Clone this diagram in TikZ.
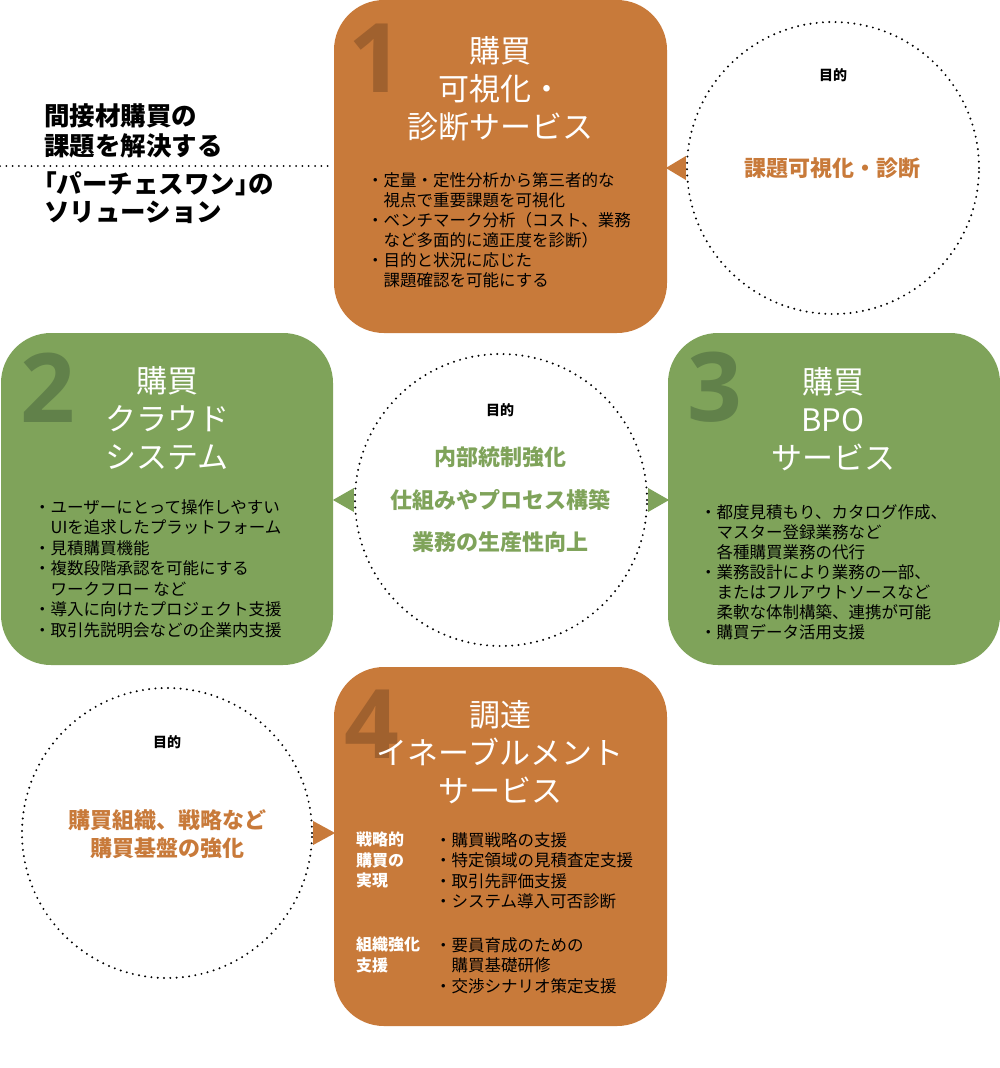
\documentclass[tikz,border=0pt]{standalone}
\usepackage{fontspec}
\setmainfont{Noto Sans CJK JP}
\newfontfamily\numfont{Open Sans}
\definecolor{ochre}{HTML}{C87A3A}
\definecolor{ochredark}{HTML}{A0612E}
\definecolor{leaf}{HTML}{7FA35A}
\definecolor{leafdark}{HTML}{61814A}
\newcommand\bulind{\hspace*{1em}}
\tikzset{
 box/.style={fill=#1,rounded corners=50pt,inner sep=0,minimum width=333pt,minimum height=333pt},
 bignum/.style={text=#1,font=\numfont\bfseries\fontsize{96}{96}\selectfont,inner sep=0,anchor=base},
 ttl/.style={text=white,font=\fontsize{31}{38}\selectfont,align=center,inner sep=0},
 body/.style={font=\fontsize{16.5}{20}\selectfont,align=left,inner sep=0,anchor=north west},
 side/.style={text=white,font=\bfseries\fontsize{16}{20.5}\selectfont,align=left,inner sep=0,anchor=north west},
 ring/.style={circle,draw,dash pattern=on 0pt off 6.3pt,line width=2.2pt,line cap=round,minimum size=292pt,inner sep=0},
 dotline/.style={draw,dash pattern=on 0pt off 6.3pt,line width=2pt,line cap=round},
 aim/.style={font=\bfseries\fontsize{14}{14}\selectfont,inner sep=0},
 goal/.style={text=#1,font=\bfseries\fontsize{22}{28}\selectfont,align=center,inner sep=0},
 head/.style={font=\bfseries\fontsize{25.5}{30}\selectfont,align=left,anchor=west,inner sep=0},
}
\begin{document}
\begin{tikzpicture}[x=1pt,y=-1pt]
\useasboundingbox (0,0) rectangle (1000,1068);
\node[box=ochre] (b1) at (500.5,166.5) {};
\node[box=leaf,minimum width=332pt,minimum height=332pt] (b2) at (167,499) {};
\node[box=leaf,minimum width=332pt,minimum height=332pt] (b3) at (834,499) {};
\node[box=ochre,minimum height=359pt] (b4) at (500.5,846.5) {};
\node[bignum=ochredark] (n1) at (376,92) {1};
\node[bignum=leafdark] (n2) at (48,422) {2};
\node[bignum=leafdark] (n3) at (715,421) {3};
\node[bignum=ochredark] (n4) at (372,758) {4};
\node[ttl] (t1) at (500,89) {購買\\可視化・\\診断サービス};
\node[ttl] (t2) at (167,418) {購買\\クラウド\\システム};
\node[ttl] (t3) at (833,419) {購買\\BPO\\サービス};
\node[ttl] (t4) at (500,752) {調達\\イネーブルメント\\サービス};
\node[body] (p1) at (367,172) {・定量・定性分析から第三者的な\\\bulind 視点で重要課題を可視化\\・ベンチマーク分析（コスト、業務\\\bulind など多面的に適正度を診断）\\・目的と状況に応じた\\\bulind 課題確認を可能にする};
\node[body,font=\fontsize{16.5}{20.5}\selectfont] (p2) at (34,499) {・ユーザーにとって操作しやすい\\\bulind UIを追求したプラットフォーム\\・見積購買機能\\・複数段階承認を可能にする\\\bulind ワークフロー など\\・導入に向けたプロジェクト支援\\・取引先説明会などの企業内支援};
\node[body] (p3) at (700,504) {・都度見積もり、カタログ作成、\\\bulind マスター登録業務など\\\bulind 各種購買業務の代行\\・業務設計により業務の一部、\\\bulind またはフルアウトソースなど\\\bulind 柔軟な体制構築、連携が可能\\・購買データ活用支援};
\node[side] (s1) at (356,832) {戦略的\\購買の\\実現};
\node[body,font=\fontsize{16.5}{20.5}\selectfont] (q1) at (435,832) {・購買戦略の支援\\・特定領域の見積査定支援\\・取引先評価支援\\・システム導入可否診断};
\node[side] (s2) at (356,937) {組織強化\\支援};
\node[body,font=\fontsize{16.5}{20.5}\selectfont] (q2) at (435,937) {・要員育成のための\\\bulind 購買基礎研修\\・交渉シナリオ策定支援};
\node[ring] (c1) at (833,168) {};
\node[ring] (c2) at (501,500) {};
\node[ring,minimum size=290pt] (c3) at (167,833) {};
\node[aim] (a1) at (833,75) {目的};
\node[goal=ochre] (g1) at (832,168) {課題可視化・診断};
\node[aim] (a2) at (500,410) {目的};
\node[goal=leaf,font=\bfseries\fontsize{22}{42.5}\selectfont] (g2) at (500,500) {内部統制強化\\仕組みやプロセス構築\\業務の生産性向上};
\node[aim] (a3) at (167,742) {目的};
\node[goal=ochre] (g3) at (167,834) {購買組織、戦略など\\購買基盤の強化};
\fill[ochre] (c1.west) ++(0,-12) -- ++(0,24) -- ++(-20,-12) -- cycle;
\fill[leaf] (c2.west) ++(0,-12) -- ++(0,24) -- ++(-21,-12) -- cycle;
\fill[leaf] (c2.east) ++(0,-12) -- ++(0,24) -- ++(21,-12) -- cycle;
\fill[ochre] (c3.east) ++(0,-12) -- ++(0,24) -- ++(22,-12) -- cycle;
\node[head] (h1) at (44,131) {間接材購買の\\課題を解決する};
\node[head,font=\bfseries\fontsize{25.5}{28}\selectfont] (h2) at (44,198) {｢パーチェスワン｣の\\ソリューション};
\coordinate (d0) at (0,166);
\draw[dotline] (d0) -- (d0 -| b1.west);
\end{tikzpicture}
\end{document}
